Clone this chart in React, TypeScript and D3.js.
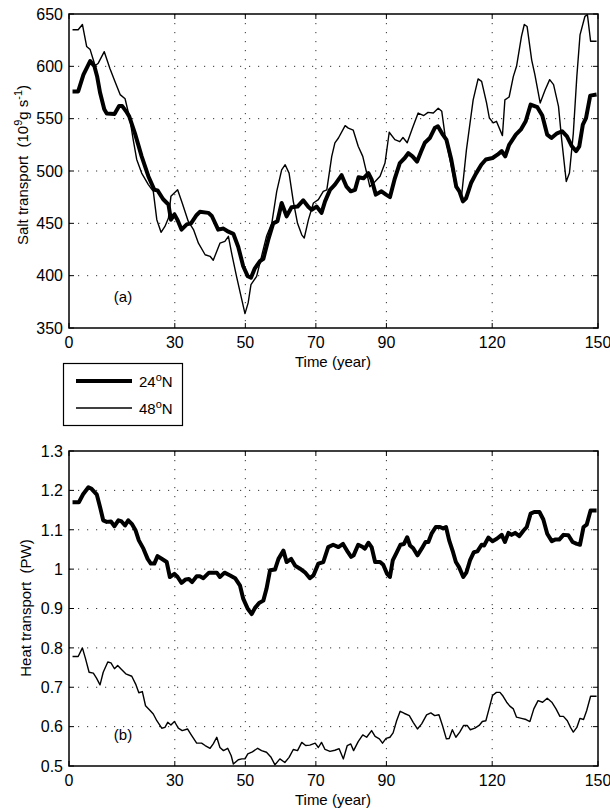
import React from "react";
import * as d3 from "d3";

// ---- Data ----
const xTicks = [0, 30, 50, 70, 90, 120, 150];
const saltTicks = [350, 400, 450, 500, 550, 600, 650];
const heatTicks = [0.5, 0.6, 0.7, 0.8, 0.9, 1.0, 1.1, 1.2, 1.3];
const heatTickLabels = ["0.5", "0.6", "0.7", "0.8", "0.9", "1", "1.1", "1.2", "1.3"];

const salt24: [number, number][] = [
  [1, 576], [2.6, 576], [4.1, 592], [6, 605], [7.2, 600], [8, 590], [8.8, 575], [10, 559], [10.7, 555],
  [12.9, 554.5], [14.2, 562], [15.1, 562], [16.4, 556], [17.1, 552], [18.7, 536], [20.6, 514], [22.5, 495],
  [24.2, 482], [25.1, 481.5], [26.7, 473], [28.2, 468], [28.9, 453.5], [29.9, 458.6], [30.8, 453], [31.9, 444],
  [33.4, 449], [34.6, 450], [36.2, 458], [37.1, 461], [39.5, 460], [40.5, 457], [42.3, 444], [43.8, 445],
  [45.2, 442], [46.6, 440], [48, 427.4], [49.4, 409], [50.7, 399.4], [51.6, 398], [52.7, 407], [54.2, 414],
  [55.1, 416], [56.5, 434.4], [57.9, 450], [59.1, 452], [60.3, 469.4], [61.7, 456.7], [63.1, 465.3], [64.8, 466],
  [66.4, 472], [67.9, 465.6], [68.8, 463], [70.2, 466], [71.6, 460], [72.6, 471], [74, 482], [75.4, 487],
  [77.3, 496], [78.7, 485], [79.9, 480.6], [81.1, 482], [82.1, 494], [83.5, 493], [84.9, 498], [85.8, 492],
  [87, 477.4], [88.6, 480.6], [89.9, 477.4], [91, 475], [92.4, 493], [93.8, 507.6], [95.2, 512.4], [96.2, 517],
  [97.4, 514], [98.7, 509], [99.9, 519], [100.9, 527], [102.3, 531.5], [103.7, 541], [104.6, 542.7], [106, 534.7],
  [107, 530], [108.4, 511], [109.8, 485], [110.7, 480.6], [111.7, 471], [112.6, 474], [114, 488.5], [115.4, 497.5],
  [116.9, 506], [118.2, 511], [120.1, 512.4], [121.5, 515.6], [122.7, 519], [123.7, 514], [124.8, 525],
  [126.7, 534.7], [128.1, 539.5], [129.5, 547.5], [130.9, 563.4], [132.8, 561], [134.2, 553], [135.6, 534.7],
  [136.8, 531.5], [138.4, 536], [139.8, 538], [141.2, 533], [142.6, 523.6], [143.8, 519], [144.7, 523.6],
  [145.7, 544.3], [146.6, 550.6], [147.8, 572], [149.6, 573],
];

const salt48: [number, number][] = [
  [1, 635], [2.6, 635], [3.8, 640], [5, 619], [6, 616], [7.4, 600.6], [8.3, 603], [10, 614], [11.6, 598],
  [13, 585.7], [14.5, 573], [15.9, 569], [17.3, 549], [18.2, 530], [19.2, 511], [20.6, 498], [22.5, 487],
  [23.9, 480.6], [24.9, 453.5], [26.1, 441.4], [27.2, 447], [28.2, 455], [28.9, 475.8], [30.8, 482], [32.1, 469.4],
  [33.8, 452], [35.3, 444], [36.7, 431], [38.6, 420], [40, 418.5], [40.9, 414.7], [42.8, 431], [44.2, 432.8],
  [45.2, 437.6], [46.1, 421.7], [47.5, 399.4], [48.8, 380], [49.9, 363.7], [50.8, 374], [51.6, 391.4],
  [53.2, 399.4], [54.6, 418.5], [56, 437.6], [57.5, 450], [58.9, 480.6], [60.3, 501], [61.3, 506], [62.4, 498],
  [63.6, 471], [64.8, 450], [66, 439], [66.7, 436], [67.9, 453.5], [69.3, 469.4], [70.7, 472.6], [72.1, 480.6],
  [73.1, 482], [74.5, 514], [75.4, 526.8], [76.4, 531.5], [78.3, 543.3], [79.2, 541], [80.6, 539], [82, 523.6],
  [83.3, 514], [84.2, 501], [85.3, 485], [86.8, 490], [88.2, 495], [89.6, 507.6], [90.8, 537], [92.4, 530],
  [93.8, 528], [94.7, 532], [95.9, 527], [97.4, 541], [99, 555.4], [100.6, 553], [101.8, 556], [103.3, 555.4],
  [104.7, 560], [105.7, 557], [106.6, 534.7], [108, 511], [109.4, 488.5], [111.3, 475.8], [112.7, 520.4],
  [114.6, 568], [116, 588], [117, 585.7], [118.4, 565], [119.2, 550.6], [120.3, 546], [121.2, 547.5],
  [122.9, 533.8], [123.6, 568], [124.8, 570.7], [126, 590.4], [126.9, 600], [128.3, 628.7], [129.1, 640],
  [129.9, 638], [131.2, 606], [132.1, 592], [133.6, 565], [135, 577.4], [136.3, 587.3], [137.4, 582.5],
  [138.8, 561.8], [139.7, 530], [141, 490], [141.9, 498], [143, 536], [144, 590.4], [144.9, 630], [146.3, 647.8],
  [147, 649.4], [147.9, 624], [149.6, 624],
];

const heat24: [number, number][] = [
  [1, 1.17], [2.8, 1.17], [4, 1.19], [5.5, 1.208], [6.4, 1.204], [7.9, 1.189], [8.8, 1.158], [9.7, 1.124],
  [10.7, 1.12], [11.9, 1.121], [12.9, 1.109], [14, 1.124], [14.9, 1.121], [15.9, 1.111], [16.8, 1.124],
  [17.8, 1.115], [18.9, 1.098], [19.8, 1.073], [21.1, 1.052], [22.3, 1.026], [23.2, 1.014], [24.2, 1.014],
  [25.1, 1.033], [26.5, 1.025], [27.7, 1.018], [28.6, 0.98], [29.9, 0.988], [30.8, 0.98], [31.9, 0.965],
  [33.1, 0.974], [34, 0.975], [34.9, 0.967], [36.2, 0.982], [37.1, 0.982], [38.1, 0.977], [39.7, 0.991],
  [41.9, 0.991], [42.8, 0.98], [44.1, 0.991], [45.7, 0.984], [47.1, 0.977], [48.5, 0.958], [49.4, 0.925],
  [50.7, 0.899], [51.8, 0.886], [52.7, 0.901], [53.9, 0.914], [55.1, 0.92], [56, 0.95], [57, 0.997],
  [58.4, 0.999], [59.4, 1.026], [60.8, 1.047], [61.7, 1.018], [63, 1.026], [64.1, 1.009], [65.5, 1.001],
  [66.9, 0.992], [68.3, 0.977], [69.3, 0.984], [70.7, 1.014], [72.1, 1.018], [73.5, 1.056], [74.9, 1.062],
  [76.4, 1.056], [77.7, 1.064], [79.1, 1.043], [80, 1.031], [80.7, 1.035], [82, 1.062], [83.3, 1.056],
  [83.9, 1.052], [84.9, 1.067], [85.8, 1.056], [86.8, 1.018], [88.2, 1.018], [89.1, 1.011], [90.2, 0.988],
  [91, 0.98], [91.8, 1.022], [92.9, 1.042], [94, 1.062], [95, 1.064], [95.9, 1.081], [96.7, 1.06], [97.6, 1.053],
  [98.8, 1.035], [100, 1.052], [101.1, 1.069], [101.9, 1.069], [102.8, 1.09], [104, 1.107], [105.2, 1.107],
  [106.1, 1.103], [106.9, 1.107], [107.8, 1.073], [108.9, 1.043], [109.7, 1.018], [110.6, 1.005], [111.8, 0.98],
  [112.7, 0.992], [113.7, 1.022], [114.8, 1.043], [115.8, 1.045], [117, 1.062], [117.7, 1.06], [118.9, 1.08],
  [120.1, 1.071], [121.3, 1.077], [122.7, 1.087], [123.6, 1.069], [124.6, 1.092], [125.5, 1.087], [126.5, 1.092],
  [127.7, 1.084], [128.9, 1.098], [129.8, 1.107], [130.9, 1.141], [131.9, 1.145], [133.4, 1.145], [134.5, 1.126],
  [135.6, 1.09], [136.9, 1.071], [137.8, 1.075], [139, 1.075], [140.2, 1.087], [141.6, 1.086], [142.8, 1.069],
  [144, 1.064], [144.9, 1.062], [145.9, 1.107], [146.8, 1.113], [147.9, 1.149], [149.6, 1.149],
];

const heat48: [number, number][] = [
  [1, 0.778], [2.6, 0.778], [3.8, 0.8], [4.7, 0.772], [5.7, 0.738], [6.9, 0.736], [7.8, 0.723], [8.8, 0.706],
  [9.7, 0.738], [11, 0.764], [11.9, 0.762], [12.9, 0.747], [13.8, 0.755], [14.9, 0.745], [16.1, 0.734],
  [17.8, 0.728], [18.9, 0.708], [19.8, 0.686], [20.8, 0.689], [21.7, 0.653], [23, 0.641], [23.9, 0.632],
  [24.9, 0.615], [26.3, 0.596], [27.2, 0.598], [28, 0.611], [28.9, 0.604], [29.9, 0.613], [31, 0.596],
  [32.1, 0.59], [33.6, 0.594], [34.8, 0.577], [36.2, 0.558], [37.6, 0.558], [38.6, 0.552], [40, 0.545],
  [40.9, 0.556], [41.9, 0.573], [42.8, 0.547], [43.8, 0.539], [45, 0.545], [46, 0.526], [46.6, 0.505],
  [48, 0.516], [49, 0.518], [49.9, 0.518], [50.7, 0.531], [52, 0.536], [53.5, 0.545], [54.6, 0.539], [56, 0.535],
  [57.3, 0.522], [58.4, 0.503], [59.8, 0.518], [61.2, 0.509], [62.4, 0.522], [63.6, 0.542], [64.8, 0.539],
  [66, 0.56], [67.1, 0.552], [68.3, 0.553], [69.8, 0.558], [70.7, 0.547], [71.6, 0.56], [72.6, 0.542],
  [74, 0.537], [75.4, 0.54], [76.6, 0.544], [77.8, 0.518], [78.9, 0.552], [79.9, 0.556], [80.7, 0.539],
  [82, 0.562], [83.3, 0.579], [84.4, 0.573], [85.8, 0.59], [86.8, 0.575], [88, 0.569], [88.9, 0.558],
  [89.9, 0.57], [91, 0.573], [91.9, 0.584], [92.9, 0.615], [93.9, 0.639], [95, 0.634], [96.5, 0.628],
  [97.6, 0.611], [98.8, 0.594], [100, 0.607], [101.4, 0.63], [102.6, 0.635], [103.7, 0.628], [104.9, 0.63],
  [105.9, 0.603], [107, 0.569], [107.8, 0.57], [108.7, 0.592], [109.7, 0.573], [110.8, 0.586], [111.9, 0.603],
  [112.9, 0.603], [113.8, 0.592], [115.1, 0.596], [116.3, 0.603], [117.2, 0.613], [118.2, 0.615], [119.1, 0.645],
  [120.1, 0.679], [121.2, 0.687], [122.2, 0.687], [123.1, 0.677], [124.1, 0.662], [125, 0.652], [126, 0.645],
  [126.9, 0.624], [128.3, 0.621], [129.6, 0.618], [130.7, 0.613], [131.8, 0.645], [133, 0.666], [134.3, 0.662],
  [135.6, 0.672], [136.9, 0.662], [138.1, 0.645], [139.2, 0.626], [140.2, 0.626], [141.3, 0.615], [142.2, 0.598],
  [143, 0.586], [144, 0.598], [144.9, 0.621], [145.9, 0.618], [146.8, 0.641], [147.9, 0.677], [149.6, 0.677],
];

const FONT = "'Liberation Sans', Arial, Helvetica, sans-serif";
const FS = 16;
const X0 = 69;
const X1 = 598;

type PanelProps = {
  top: number;
  bottom: number;
  yDomain: [number, number];
  yTicks: number[];
  yTickLabels: string[];
  thick: [number, number][];
  thin: [number, number][];
  tag: string;
};

function Panel({ top, bottom, yDomain, yTicks, yTickLabels, thick, thin, tag }: PanelProps) {
  const x = d3.scaleLinear().domain([0, 150]).range([X0, X1]);
  const y = d3.scaleLinear().domain(yDomain).range([bottom, top]);
  const line = d3
    .line<[number, number]>()
    .x((d) => x(d[0]))
    .y((d) => y(d[1]));
  const tl = 5;
  return (
    <g>
      {xTicks
        .filter((t) => t > 0 && t < 150)
        .map((t) => (
          <line key={"gx" + t} x1={x(t)} x2={x(t)} y1={top} y2={bottom} stroke="#333" strokeWidth={1} strokeDasharray="1.2,7.8" />
        ))}
      {yTicks.slice(1, -1).map((t) => (
        <line key={"gy" + t} x1={X0} x2={X1} y1={y(t)} y2={y(t)} stroke="#333" strokeWidth={1} strokeDasharray="1.2,7.8" />
      ))}
      <path d={line(thin) || ""} fill="none" stroke="#000" strokeWidth={1.4} strokeLinejoin="round" />
      <path d={line(thick) || ""} fill="none" stroke="#000" strokeWidth={4} strokeLinejoin="round" />
      <rect x={X0} y={top} width={X1 - X0} height={bottom - top} fill="none" stroke="#000" strokeWidth={1.5} />
      {xTicks.map((t) => (
        <g key={"tx" + t}>
          <line x1={x(t)} x2={x(t)} y1={bottom} y2={bottom - tl} stroke="#000" />
          <line x1={x(t)} x2={x(t)} y1={top} y2={top + tl} stroke="#000" />
          <text x={x(t)} y={bottom + 20} textAnchor="middle" fontSize={FS} fontFamily={FONT}>
            {t}
          </text>
        </g>
      ))}
      {yTicks.map((t, i) => (
        <g key={"ty" + t}>
          <line x1={X0} x2={X0 + tl} y1={y(t)} y2={y(t)} stroke="#000" />
          <line x1={X1} x2={X1 - tl} y1={y(t)} y2={y(t)} stroke="#000" />
          <text x={X0 - 6} y={y(t) + 5.8} textAnchor="end" fontSize={FS} fontFamily={FONT}>
            {yTickLabels[i]}
          </text>
        </g>
      ))}
      <text x={333} y={bottom + 39} textAnchor="middle" fontSize={15} fontFamily={FONT}>
        Time (year)
      </text>
      <text x={123} y={bottom - 26} textAnchor="middle" fontSize={15} fontFamily={FONT}>
        {tag}
      </text>
    </g>
  );
}

export default function App() {
  return (
    <svg
      width={610}
      height={811}
      style={{ position: "absolute", left: 0, top: 0, background: "#fff" }}
      xmlns="http://www.w3.org/2000/svg"
    >
      <rect x={0} y={0} width={610} height={811} fill="#fff" />
      <Panel
        top={14}
        bottom={328}
        yDomain={[350, 650]}
        yTicks={saltTicks}
        yTickLabels={saltTicks.map(String)}
        thick={salt24}
        thin={salt48}
        tag="(a)"
      />
      <Panel
        top={451}
        bottom={766}
        yDomain={[0.5, 1.3]}
        yTicks={heatTicks}
        yTickLabels={heatTickLabels}
        thick={heat24}
        thin={heat48}
        tag="(b)"
      />
      <text transform="translate(28,165) rotate(-90)" textAnchor="middle" fontSize={15} fontFamily={FONT}>
        {"Salt transport\u00a0\u00a0(10"}
        <tspan dy={-6} fontSize={11}>9</tspan>
        <tspan dy={6}>g s</tspan>
        <tspan dy={-6} fontSize={11}>-1</tspan>
        <tspan dy={6}>)</tspan>
      </text>
      <text transform="translate(31,608) rotate(-90)" textAnchor="middle" fontSize={15} fontFamily={FONT}>
        {"Heat transport\u00a0\u00a0(PW)"}
      </text>
      <rect x={63.5} y={363.5} width={119} height={62} fill="#fff" stroke="#000" strokeWidth={1.2} />
      <line x1={76} x2={132} y1={381} y2={381} stroke="#000" strokeWidth={4} />
      <line x1={76} x2={132} y1={408} y2={408} stroke="#000" strokeWidth={1.4} />
      <text x={139} y={387} fontSize={15} fontFamily={FONT}>
        24
        <tspan dy={-6} fontSize={11}>o</tspan>
        <tspan dy={6}>N</tspan>
      </text>
      <text x={139} y={414} fontSize={15} fontFamily={FONT}>
        48
        <tspan dy={-6} fontSize={11}>o</tspan>
        <tspan dy={6}>N</tspan>
      </text>
    </svg>
  );
}
